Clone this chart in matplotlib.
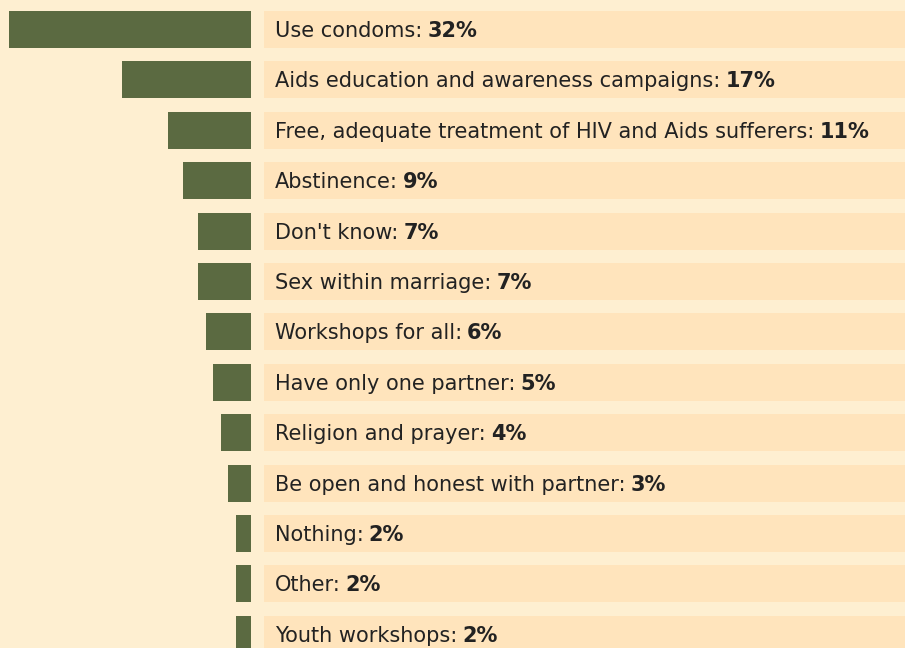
import matplotlib
matplotlib.use("Agg")
import matplotlib.pyplot as plt

labels = ["Use condoms", "Aids education and awareness campaigns",
          "Free, adequate treatment of HIV and Aids sufferers", "Abstinence",
          "Don't know", "Sex within marriage", "Workshops for all",
          "Have only one partner", "Religion and prayer",
          "Be open and honest with partner", "Nothing", "Other", "Youth workshops"]
values = [32, 17, 11, 9, 7, 7, 6, 5, 4, 3, 2, 2, 2]

BG = "#FEEFD1"
BOX = "#FFE4BC"
GREEN = "#5B6A41"
TXT = "#222222"

W, H = 905, 648
fig = plt.figure(figsize=(W / 100, H / 100), dpi=100, facecolor=BG)
ax = fig.add_axes([0, 0, 1, 1])
ax.set_facecolor(BG)

pxv = 7.5625          # pixels per percent
x0 = 251              # zero line pixel
pitch = 50.4
c0 = 29.5
ax.set_xlim(-x0 / pxv, (W - x0) / pxv)
ax.set_ylim((H - c0) / pitch, -c0 / pitch)
ax.axis("off")

n = len(labels)
ys = list(range(n))
bh = 37 / pitch
ax.barh(ys, [-v for v in values], height=bh, left=0, color=GREEN, linewidth=0)
box_left = (264 - x0) / pxv
ax.barh(ys, [(W - 264) / pxv + 5] * n, height=bh, left=box_left, color=BOX, linewidth=0)

tx = (275 - x0) / pxv
base = 7.5 / pitch
for y, lab, v in zip(ys, labels, values):
    t = ax.text(tx, y + base, lab + ":", fontsize=15, color=TXT, va="baseline",
                ha="left", family="DejaVu Sans")
    ax.annotate(f"{v}%", xy=(1, 0), xycoords=t, xytext=(5, 0),
                textcoords="offset pixels", fontsize=15, fontweight="bold",
                color=TXT, va="bottom", ha="left", family="DejaVu Sans")

fig.savefig("out.png", dpi=100, facecolor=BG)
